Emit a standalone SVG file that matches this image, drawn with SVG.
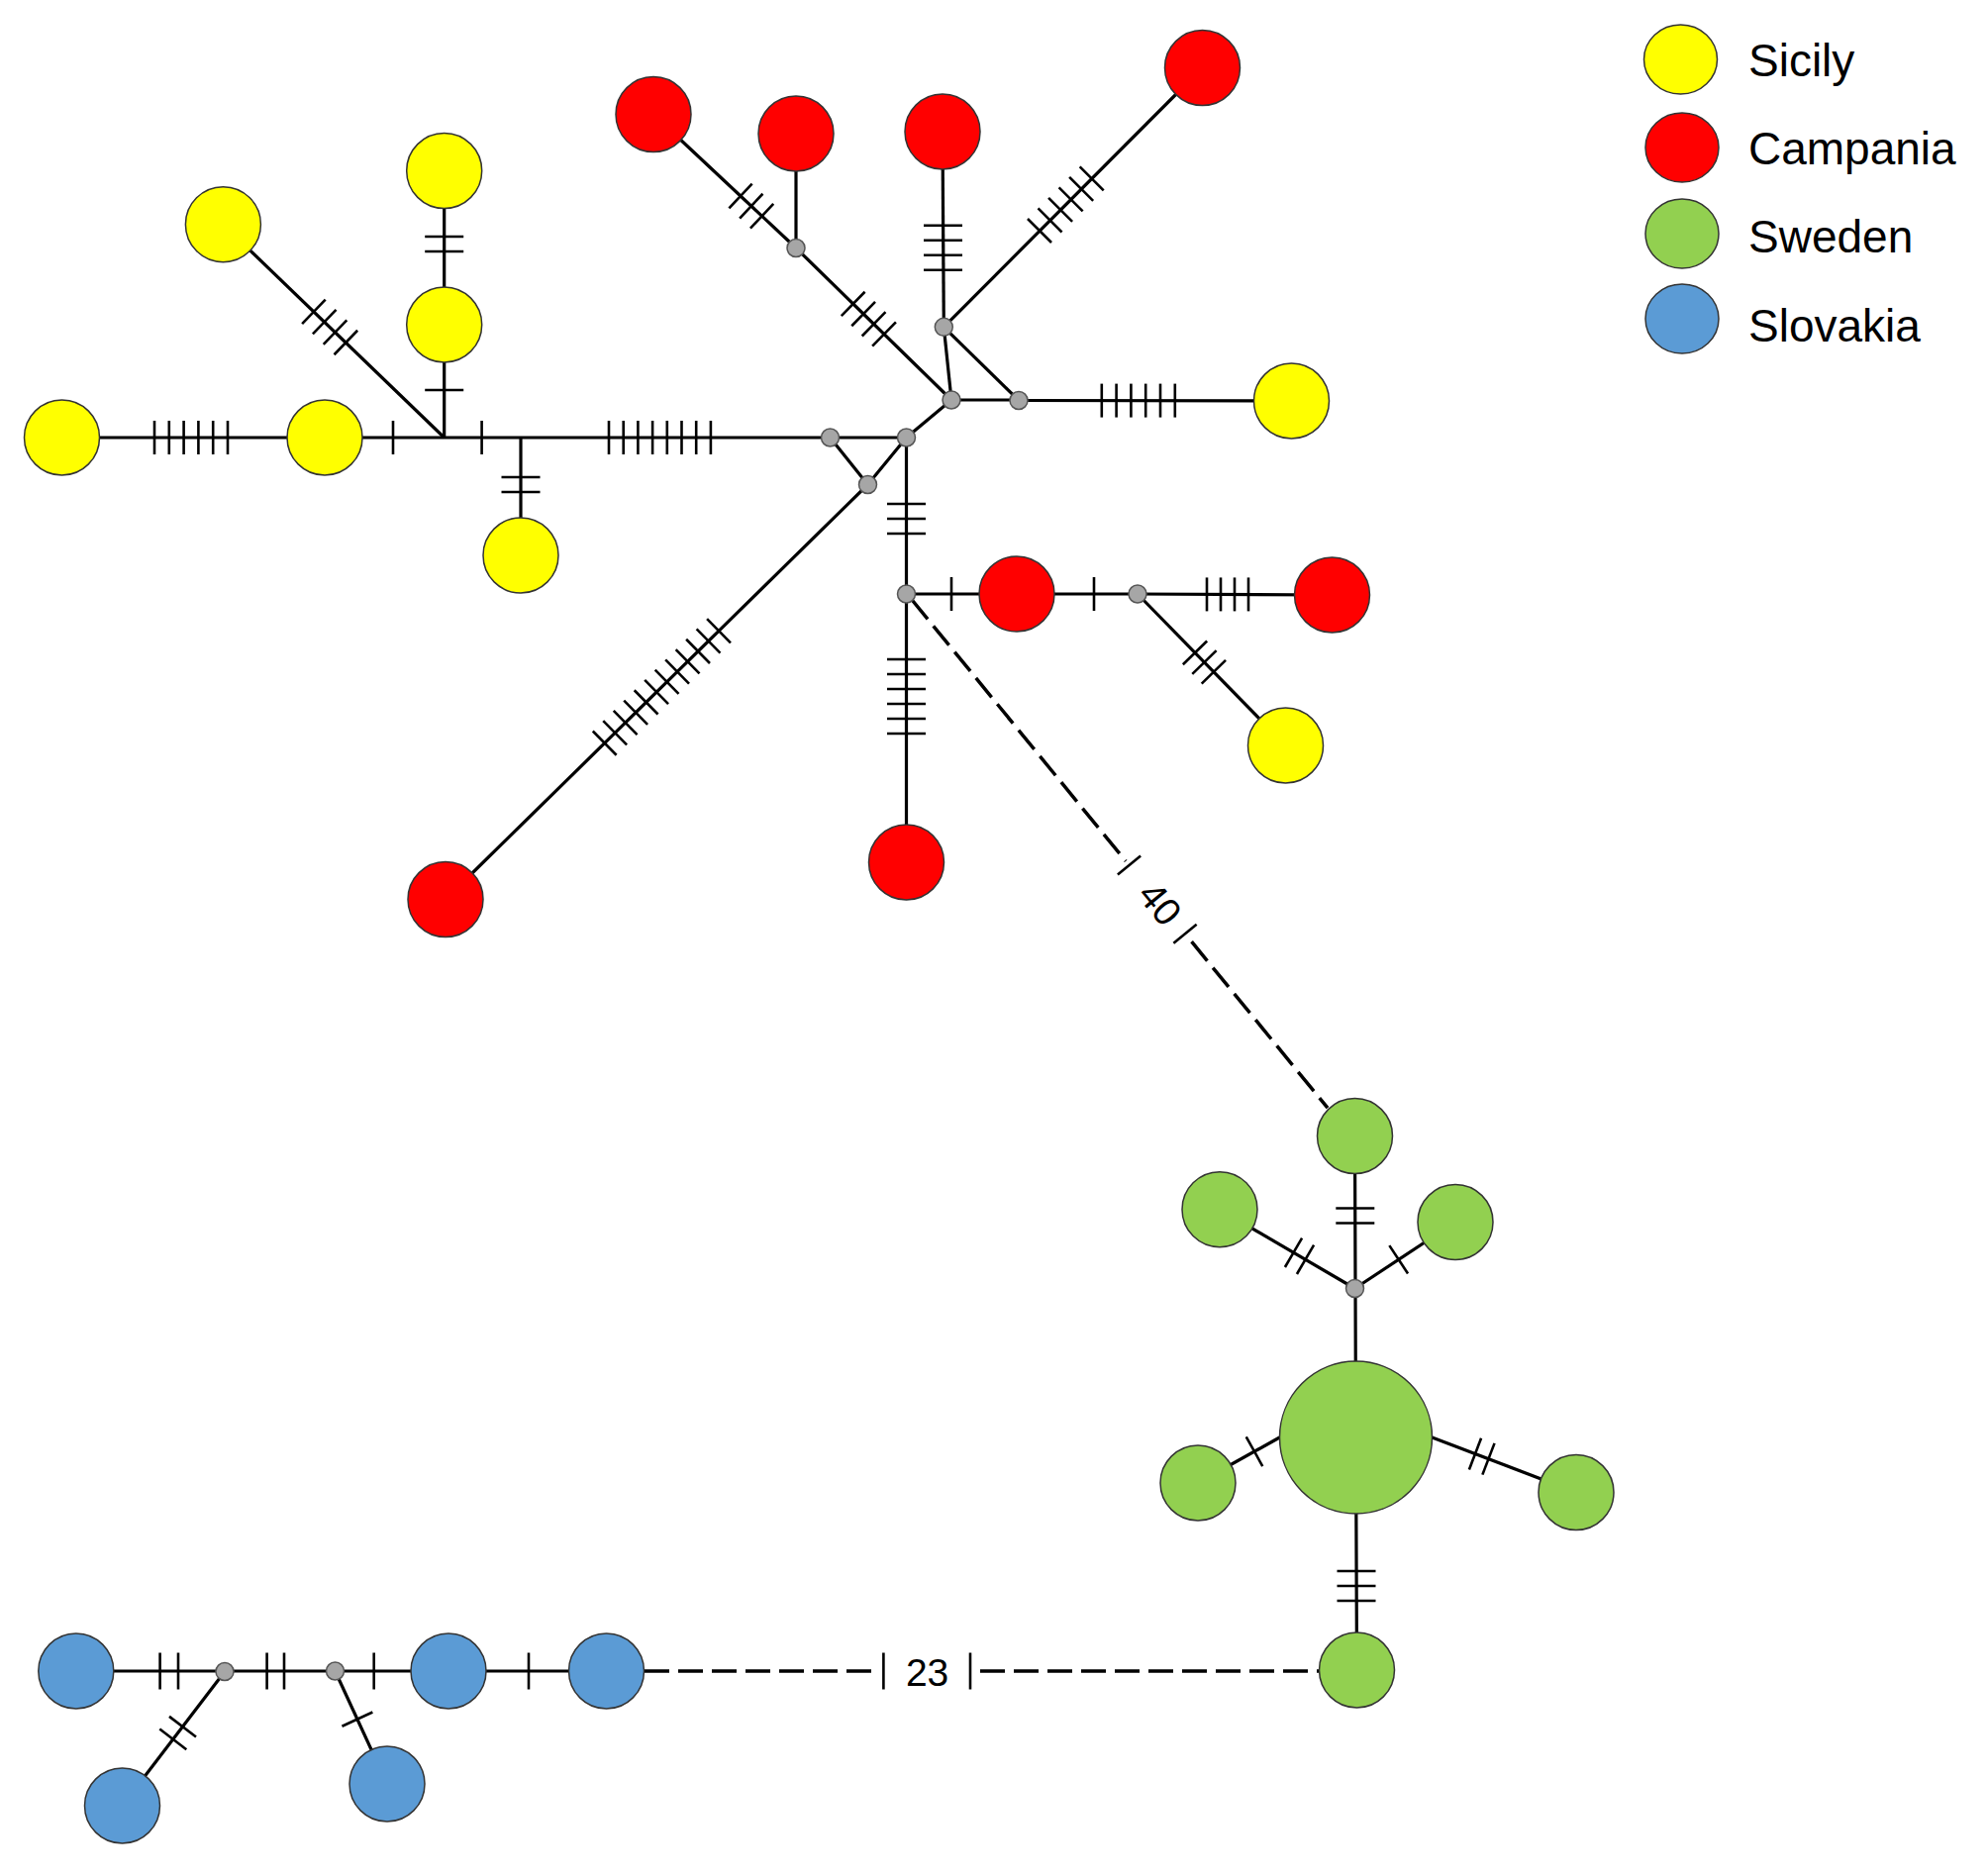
<svg xmlns="http://www.w3.org/2000/svg" width="2008" height="1894" viewBox="0 0 2008 1894">
<style>
.e{fill:none;stroke:#000;stroke-width:3.2;stroke-linejoin:round}
.d{fill:none;stroke:#000;stroke-width:3.5;stroke-dasharray:25 9}
.tk{stroke:#000;stroke-width:2.6}
.n{stroke:#333;stroke-width:1.5}
.sic{fill:#FFFF00}
.cam{fill:#FF0000}
.swe{fill:#92D050}
.slo{fill:#5B9BD5}
.mv{fill:#A6A6A6;stroke:#555;stroke-width:1.5}
.lbl{font-family:"Liberation Sans",Arial,sans-serif;font-size:39px;fill:#000}
.leg{font-family:"Liberation Sans",Arial,sans-serif;font-size:46px;fill:#000}
</style>
<defs>
<line id="t" class="tk" x1="0" y1="-17" x2="0" y2="17"/>
<line id="tw" class="tk" x1="0" y1="-19.5" x2="0" y2="19.5"/>
<line id="tb" class="tk" x1="0" y1="-18.5" x2="0" y2="18.5"/>
</defs>
<rect width="2008" height="1894" fill="#fff"/>

<g id="connectors">
<path class="e" d="M62.5,442 H838.5"/>
<path class="e" d="M448.7,442 L225.4,226.7"/>
<path class="e" d="M448.7,442 V172.5"/>
<path class="e" d="M526,442 V561"/>
<path class="e" d="M838.5,442 H915.5"/>
<path class="e" d="M838.5,442 L876.5,489.5"/>
<path class="e" d="M915.5,442 L876.5,489.5 L450,908.5"/>
<path class="e" d="M915.5,442 V871"/>
<path class="e" d="M915.5,442 L961,404"/>
<path class="e" d="M961,404 H1029"/>
<path class="e" d="M961,404 L953.3,330.3"/>
<path class="e" d="M953.3,330.3 L1029,404.5"/>
<path class="e" d="M1029,404.5 L1304.5,405"/>
<path class="e" d="M953.3,330.3 L952,133"/>
<path class="e" d="M953.3,330.3 L1214.5,68.5"/>
<path class="e" d="M961,404 L804,250.5 L660,115.5"/>
<path class="e" d="M804,250.5 V135"/>
<path class="e" d="M915.5,600 H1149 L1345.5,601"/>
<path class="e" d="M1149,600 L1298.5,753"/>
<path class="e" d="M1368.5,1147.5 L1369.5,1452 L1370.5,1687"/>
<path class="e" d="M1368.5,1301.5 L1232,1221.7"/>
<path class="e" d="M1368.5,1301.5 L1470,1234.5"/>
<path class="e" d="M1210,1498 L1292.5,1452"/>
<path class="e" d="M1446.5,1452 L1592,1507.5"/>
<path class="e" d="M76.8,1688 H612.5"/>
<path class="e" d="M227,1688.5 L123.5,1824"/>
<path class="e" d="M338.5,1688 L391,1802"/>

<path class="d" d="M921.2,606 L1137.1,869.9"/>
<path class="d" d="M1203.6,951.2 L1341,1119.2"/>
<path class="d" d="M651,1688 H882"/>
<path class="d" d="M990,1688 H1332.5"/>

<g id="ticks">
<g transform="translate(156,442)"><use href="#t"/><use href="#t" x="14.8"/><use href="#t" x="29.6"/><use href="#t" x="44.4"/><use href="#t" x="59.2"/><use href="#t" x="74"/></g>
<use href="#t" transform="translate(397,442)"/>
<use href="#t" transform="translate(486.6,442)"/>
<g transform="translate(526,482) rotate(90)"><use href="#tw"/><use href="#tw" x="15"/></g>
<g transform="translate(615,442)"><use href="#t"/><use href="#t" x="14.7"/><use href="#t" x="29.4"/><use href="#t" x="44.1"/><use href="#t" x="58.8"/><use href="#t" x="73.5"/><use href="#t" x="88.2"/><use href="#t" x="102.9"/></g>
<g transform="translate(316.9,314.8) rotate(43.9)"><use href="#t"/><use href="#t" x="15"/><use href="#t" x="30"/><use href="#t" x="45"/></g>
<use href="#tw" transform="translate(448.7,394) rotate(90)"/>
<g transform="translate(448.7,239) rotate(90)"><use href="#tw"/><use href="#tw" x="15"/></g>
<g transform="translate(610.7,750.6) rotate(-44.5)"><use href="#t"/><use href="#t" x="14.7"/><use href="#t" x="29.4"/><use href="#t" x="44.1"/><use href="#t" x="58.8"/><use href="#t" x="73.5"/><use href="#t" x="88.2"/><use href="#t" x="102.9"/><use href="#t" x="117.6"/><use href="#t" x="132.3"/><use href="#t" x="147"/><use href="#t" x="161.7"/></g>
<g transform="translate(915.5,509) rotate(90)"><use href="#tw"/><use href="#tw" x="15"/><use href="#tw" x="30"/></g>
<g transform="translate(915.5,666) rotate(90)"><use href="#tw"/><use href="#tw" x="15"/><use href="#tw" x="30"/><use href="#tw" x="45"/><use href="#tw" x="60"/><use href="#tw" x="75"/></g>
<g transform="translate(1112.8,404.6)"><use href="#t"/><use href="#t" x="14.8"/><use href="#t" x="29.6"/><use href="#t" x="44.4"/><use href="#t" x="59.2"/><use href="#t" x="74"/></g>
<g transform="translate(952.5,227.7) rotate(90)"><use href="#tw"/><use href="#tw" x="15"/><use href="#tw" x="30"/><use href="#tw" x="45"/></g>
<g transform="translate(1050,233) rotate(-45)"><use href="#t"/><use href="#t" x="14.9"/><use href="#t" x="29.8"/><use href="#t" x="44.7"/><use href="#t" x="59.6"/><use href="#t" x="74.5"/></g>
<g transform="translate(748,198) rotate(43.2)"><use href="#t"/><use href="#t" x="14.8"/><use href="#t" x="29.6"/></g>
<g transform="translate(861.7,306.9) rotate(44.35)"><use href="#t"/><use href="#t" x="14.6"/><use href="#t" x="29.2"/><use href="#t" x="43.8"/></g>
<use href="#t" transform="translate(961,600)"/>
<use href="#t" transform="translate(1105,600)"/>
<g transform="translate(1219,600.4)"><use href="#t"/><use href="#t" x="14"/><use href="#t" x="28"/><use href="#t" x="42"/></g>
<g transform="translate(1207,659.4) rotate(45.66)"><use href="#t"/><use href="#t" x="13.5"/><use href="#t" x="27"/></g>
<g transform="translate(1368.8,1220.5) rotate(90)"><use href="#tw"/><use href="#tw" x="15"/></g>
<g transform="translate(1306.5,1265.3) rotate(30.3)"><use href="#t"/><use href="#t" x="13.9"/></g>
<use href="#t" transform="translate(1412.7,1272.3) rotate(-33.4)"/>
<use href="#t" transform="translate(1267,1466.2) rotate(-29.1)"/>
<g transform="translate(1490,1468.6) rotate(20.9)"><use href="#t"/><use href="#t" x="14.4"/></g>
<g transform="translate(1370,1587) rotate(90)"><use href="#tw"/><use href="#tw" x="15"/><use href="#tw" x="30"/></g>
<g transform="translate(161.6,1688)"><use href="#tb"/><use href="#tb" x="18.4"/></g>
<g transform="translate(269.6,1688)"><use href="#tb"/><use href="#tb" x="17.4"/></g>
<use href="#tb" transform="translate(377.7,1688)"/>
<use href="#tb" transform="translate(534,1688)"/>
<use href="#t" transform="translate(184.5,1744.2) rotate(127.4)"/>
<use href="#t" transform="translate(174.8,1756.9) rotate(127.4)"/>
<use href="#t" transform="translate(360.9,1736.6) rotate(65.2)"/>
</g>

<g id="label-40">
<g transform="translate(1140.5,874.1) rotate(50.7)"><line class="tk" x1="0" y1="-15" x2="0" y2="15"/></g>
<g transform="translate(1197,943.2) rotate(50.7)"><line class="tk" x1="0" y1="-15" x2="0" y2="15"/></g>
<text class="lbl" transform="translate(1172,912.5) rotate(50.7)" x="0" y="14" text-anchor="middle">40</text>
</g>
<g id="label-23">
<line class="tk" x1="892.4" y1="1669.5" x2="892.4" y2="1706.5"/>
<line class="tk" x1="980" y1="1669.5" x2="980" y2="1706.5"/>
<text class="lbl" x="936.6" y="1703" text-anchor="middle">23</text>
</g>
</g>

<g id="sicily-nodes">
<g id="Y1"><circle class="n sic" cx="62.5" cy="442" r="38"/></g>
<g id="Y2"><circle class="n sic" cx="328" cy="442" r="38"/></g>
<g id="Y3"><circle class="n sic" cx="225.4" cy="226.7" r="38"/></g>
<g id="Y4"><circle class="n sic" cx="448.7" cy="172.5" r="38"/></g>
<g id="Y5"><circle class="n sic" cx="448.7" cy="328" r="38"/></g>
<g id="Y6"><circle class="n sic" cx="526" cy="561" r="38"/></g>
<g id="Y7"><circle class="n sic" cx="1304.5" cy="405" r="38"/></g>
<g id="Y8"><circle class="n sic" cx="1298.5" cy="753" r="38"/></g>
</g>
<g id="campania-nodes">
<g id="R1"><circle class="n cam" cx="660" cy="115.5" r="38"/></g>
<g id="R2"><circle class="n cam" cx="804" cy="135" r="38"/></g>
<g id="R3"><circle class="n cam" cx="952" cy="133" r="38"/></g>
<g id="R4"><circle class="n cam" cx="1214.5" cy="68.5" r="38"/></g>
<g id="R5"><circle class="n cam" cx="1027" cy="600" r="38"/></g>
<g id="R6"><circle class="n cam" cx="1345.5" cy="601" r="38"/></g>
<g id="R7"><circle class="n cam" cx="915.5" cy="871" r="38"/></g>
<g id="R8"><circle class="n cam" cx="450" cy="908.5" r="38"/></g>
</g>
<g id="sweden-nodes">
<g id="G1"><circle class="n swe" cx="1368.5" cy="1147.5" r="38"/></g>
<g id="G2"><circle class="n swe" cx="1232" cy="1221.7" r="38"/></g>
<g id="G3"><circle class="n swe" cx="1470" cy="1234.5" r="38"/></g>
<g id="G4"><circle class="n swe" cx="1369.5" cy="1452" r="77"/></g>
<g id="G5"><circle class="n swe" cx="1210" cy="1498" r="38"/></g>
<g id="G6"><circle class="n swe" cx="1592" cy="1507.5" r="38"/></g>
<g id="G7"><circle class="n swe" cx="1370.5" cy="1687" r="38"/></g>
</g>
<g id="slovakia-nodes">
<g id="B1"><circle class="n slo" cx="76.8" cy="1688" r="38"/></g>
<g id="B2"><circle class="n slo" cx="123.5" cy="1824" r="38"/></g>
<g id="B3"><circle class="n slo" cx="391" cy="1802" r="38"/></g>
<g id="B4"><circle class="n slo" cx="453" cy="1688" r="38"/></g>
<g id="B5"><circle class="n slo" cx="612.5" cy="1688" r="38"/></g>
</g>
<g id="median-vectors">
<g id="m1"><circle class="mv" cx="804" cy="250.5" r="9"/></g>
<g id="m2"><circle class="mv" cx="953.3" cy="330.3" r="9"/></g>
<g id="m3"><circle class="mv" cx="961" cy="404" r="9"/></g>
<g id="m4"><circle class="mv" cx="1029" cy="404.5" r="9"/></g>
<g id="m5"><circle class="mv" cx="838.5" cy="442" r="9"/></g>
<g id="m6"><circle class="mv" cx="915.5" cy="442" r="9"/></g>
<g id="m7"><circle class="mv" cx="876.5" cy="489.5" r="9"/></g>
<g id="m8"><circle class="mv" cx="915.5" cy="600" r="9"/></g>
<g id="m9"><circle class="mv" cx="1149" cy="600" r="9"/></g>
<g id="m10"><circle class="mv" cx="1368.5" cy="1301.5" r="9"/></g>
<g id="m11"><circle class="mv" cx="227" cy="1688.5" r="9"/></g>
<g id="m12"><circle class="mv" cx="338.5" cy="1688" r="9"/></g>
</g>

<g id="legend">
<g id="leg-sicily"><ellipse class="n sic" cx="1697.5" cy="60" rx="37" ry="35"/><text class="leg" x="1766" y="76.5">Sicily</text></g>
<g id="leg-campania"><ellipse class="n cam" cx="1699" cy="149" rx="37" ry="35"/><text class="leg" x="1766" y="166">Campania</text></g>
<g id="leg-sweden"><ellipse class="n swe" cx="1699" cy="236" rx="37" ry="35"/><text class="leg" x="1766" y="255">Sweden</text></g>
<g id="leg-slovakia"><ellipse class="n slo" cx="1699" cy="322" rx="37" ry="35"/><text class="leg" x="1766" y="345">Slovakia</text></g>
</g>
</svg>
